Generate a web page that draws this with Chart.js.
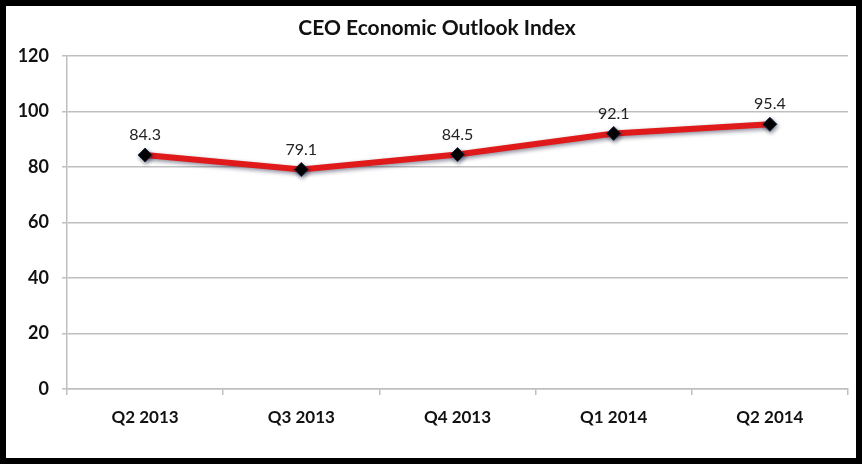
<!DOCTYPE html>
<html><head><meta charset="utf-8">
<script src="https://cdn.jsdelivr.net/npm/chart.js@4"></script>
<style>
html,body{margin:0;padding:0;background:#fff;overflow:hidden;}
#frame{position:absolute;left:0;top:0;width:862px;height:464px;box-sizing:border-box;border:6px solid #000;background:#fff;}
#wrap{position:absolute;left:0;top:0;width:850px;height:452px;}
</style></head>
<body>
<div id="frame"><div id="wrap"><canvas id="c"></canvas></div></div>
<script>
const chartTitle = 'CEO Economic Outlook Index';
const categories = ['Q2 2013','Q3 2013','Q4 2013','Q1 2014','Q2 2014'];
const indexValues = [84.3, 79.1, 84.5, 92.1, 95.4];
const yTicks = [0,20,40,60,80,100,120];

const shadowPlugin = {
  id:'shadow',
  beforeDatasetDraw(chart){ const c=chart.ctx; c.save(); c.shadowColor='rgba(0,0,40,0.45)'; c.shadowBlur=4; c.shadowOffsetX=1; c.shadowOffsetY=2; },
  afterDatasetDraw(chart){ chart.ctx.restore(); }
};
const labelPlugin = {
  id:'vlabels',
  afterDatasetsDraw(chart){
    const c=chart.ctx; const meta=chart.getDatasetMeta(0);
    c.save(); c.font='16px Lato'; c.fillStyle='#222'; c.textAlign='center'; c.textBaseline='middle';
    meta.data.forEach((p,i)=>{ c.fillText(indexValues[i].toFixed(1), p.x, p.y-20); });
    c.restore();
  }
};
const titlePlugin = {
  id:'ctitle',
  afterDraw(chart){
    const c=chart.ctx; c.save(); c.font='bold 21px Lato'; c.fillStyle='#111';
    c.textAlign='center'; c.textBaseline='middle';
    c.fillText(chartTitle, 431, 22); c.restore();
  }
};

new Chart(document.getElementById('c'),{
  type:'line',
  data:{labels:categories,datasets:[{
    data:indexValues,
    borderColor:'#e01a1a',borderWidth:6,tension:0,
    pointStyle:'rectRot',pointRadius:7,pointHoverRadius:7,
    pointBackgroundColor:'#000',pointBorderColor:'#1a2a44',pointBorderWidth:1
  }]},
  options:{
    responsive:true,maintainAspectRatio:false,animation:false,
    layout:{padding:{left:0,right:7,top:50,bottom:0}},
    plugins:{legend:{display:false},tooltip:{enabled:false},title:{display:false}},
    scales:{
      x:{offset:true,
        grid:{offset:true,drawOnChartArea:false,drawTicks:true,tickLength:6,color:'#bfbfbf',lineWidth:1.5},
        border:{color:'#bfbfbf',width:1.5},
        ticks:{color:'#111',font:{family:'Lato',size:17,weight:'bold'},padding:12,maxRotation:0},
        afterFit(s){ s.height=69; }
      },
      y:{min:0,max:120,
        afterBuildTicks(s){ s.ticks=yTicks.map(v=>({value:v})); },
        grid:{color:'#bfbfbf',lineWidth:1.5,drawTicks:true,tickLength:5},
        border:{color:'#bfbfbf',width:1.5},
        ticks:{color:'#111',font:{family:'Lato',size:18,weight:'bold'},padding:13},
        afterFit(s){ s.width=61; }
      }
    }
  },
  plugins:[shadowPlugin,labelPlugin,titlePlugin]
});
</script>
</body></html>
